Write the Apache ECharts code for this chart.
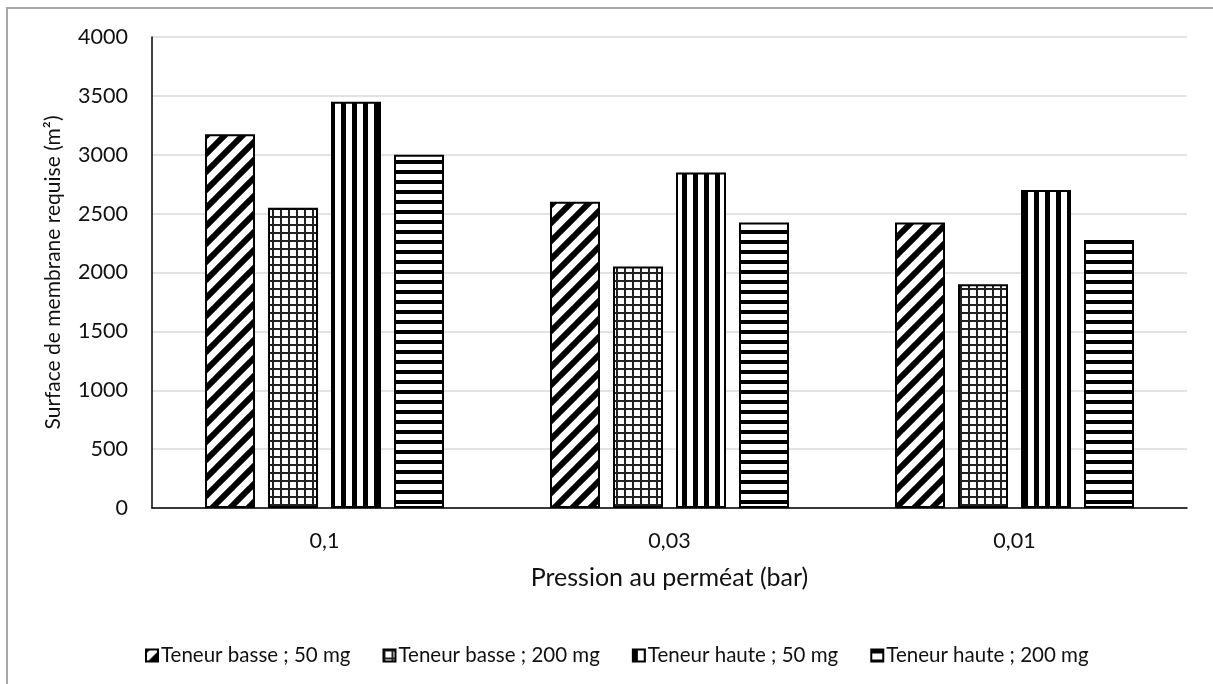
<!DOCTYPE html>
<html>
<head>
<meta charset="utf-8">
<script src="https://cdn.jsdelivr.net/npm/echarts@6/dist/echarts.min.js"></script>
<style>
  html, body { margin: 0; padding: 0; background: #fff; overflow: hidden; }
  #frame {
    position: absolute; left: 6px; top: 7px; width: 1240px; height: 720px;
    border: 2px solid #a6a6a6; box-sizing: border-box;
  }
  #chart { position: absolute; left: 0; top: 0; width: 1213px; height: 684px; }
</style>
</head>
<body>
<div id="frame"></div>
<div id="chart"></div>
<script>
// categories (permeate pressure, bar)
const categories = ['0,1', '0,03', '0,01']
const seriesNames = [
  'Teneur basse ; 50 mg',
  'Teneur basse ; 200 mg',
  'Teneur haute ; 50 mg',
  'Teneur haute ; 200 mg'
]
// required membrane surface (m²)
const basse50 = [3175, 2600, 2425]
const basse200 = [2550, 2050, 1900]
const haute50 = [3450, 2850, 2700]
const haute200 = [3000, 2425, 2275]

const FONT = 'Lato'

// hatch tiles
function makeTile(w, h, draw) {
  const c = document.createElement('canvas')
  c.width = w
  c.height = h
  const ctx = c.getContext('2d')
  ctx.fillStyle = '#fff'
  ctx.fillRect(0, 0, w, h)
  ctx.strokeStyle = '#000'
  ctx.fillStyle = '#000'
  draw(ctx, w, h)
  return { image: c, repeat: 'repeat' }
}

const diagonal = makeTile(18, 18, (ctx, w, h) => {
  ctx.lineWidth = 6
  for (let k = -1; k <= 1; k++) {
    ctx.beginPath()
    ctx.moveTo(k * w - 2, h + 2)
    ctx.lineTo(k * w + w + 2, -2)
    ctx.stroke()
  }
})
const grid = makeTile(8, 8, (ctx, w, h) => {
  ctx.fillStyle = '#222'
  ctx.fillRect(0, 0, w, 2)
  ctx.fillRect(0, 0, 2, h)
})
const vertical = makeTile(11, 11, (ctx, w, h) => {
  ctx.fillRect(0, 0, 5, h)
})
const horizontal = makeTile(10, 10, (ctx, w, h) => {
  ctx.fillRect(0, 0, w, 4)
})

const patterns = [diagonal, grid, vertical, horizontal]
const values = [basse50, basse200, haute50, haute200]

const chart = echarts.init(document.getElementById('chart'))

const option = {
  animation: false,
  textStyle: { fontFamily: FONT },
  grid: { left: 152, right: 26, top: 37, bottom: 176, containLabel: false },
  legend: {
    left: 140,
    top: 640,
    itemWidth: 12,
    itemHeight: 12,
    itemGap: 32,
    icon: 'rect',
    textStyle: { fontFamily: FONT, fontSize: 20.5, color: '#111', padding: [0, 0, 0, -2] },
    data: seriesNames
  },
  xAxis: {
    type: 'category',
    data: categories,
    name: 'Pression au perméat (bar)',
    nameLocation: 'middle',
    nameGap: 57,
    nameTextStyle: { fontFamily: FONT, fontSize: 25, color: '#111' },
    axisLine: { lineStyle: { color: '#000', width: 1.5 } },
    axisTick: { show: false },
    axisLabel: { fontFamily: FONT, fontSize: 21.5, color: '#111', margin: 22 }
  },
  yAxis: {
    type: 'value',
    min: 0,
    max: 4000,
    interval: 500,
    name: 'Surface de membrane requise (m²)',
    nameLocation: 'middle',
    nameGap: 88,
    nameTextStyle: { fontFamily: FONT, fontSize: 21, color: '#111' },
    axisLine: { show: true, lineStyle: { color: '#000', width: 1.5 } },
    axisTick: { show: false },
    axisLabel: {
      fontFamily: FONT,
      fontSize: 21.5,
      color: '#111',
      margin: 24,
      formatter: v => String(v)
    },
    splitLine: { lineStyle: { color: '#d9d9d9', width: 1.5 } }
  },
  series: seriesNames.map((name, i) => ({
    name: name,
    type: 'bar',
    data: values[i],
    barWidth: 50,
    barGap: '26%',
    itemStyle: {
      color: patterns[i],
      borderColor: '#000',
      borderWidth: 2
    }
  }))
}

chart.setOption(option)
</script>
</body>
</html>
